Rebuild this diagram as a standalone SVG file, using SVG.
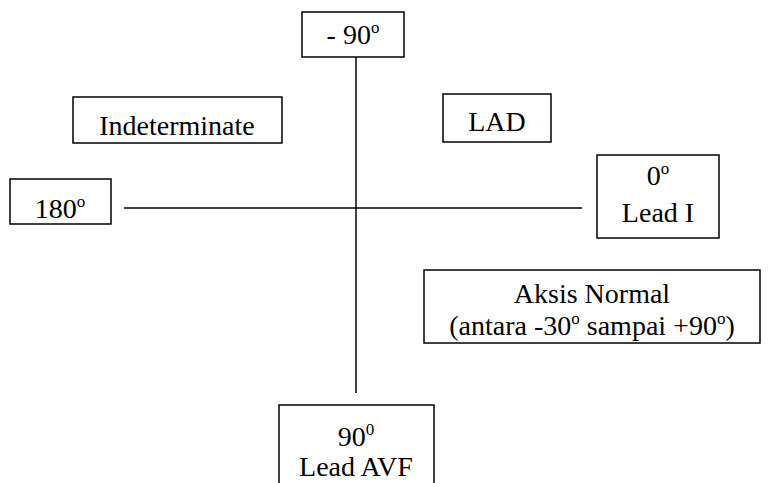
<svg xmlns="http://www.w3.org/2000/svg" width="769" height="483" viewBox="0 0 769 483">
<style>
.box{fill:#fff;stroke:#000;stroke-width:1.5}
.ln{stroke:#000;stroke-width:1.5;fill:none}
text{font-family:'Liberation Serif','Times New Roman',Times,serif;font-size:28px;fill:#000;text-anchor:middle}
.sup{font-size:17px}
</style>
<rect width="769" height="483" fill="#fff"/>
<g id="connectors">
<line class="ln" x1="356" y1="57" x2="356" y2="393"/>
<line class="ln" x1="124" y1="208" x2="582" y2="208"/>
</g>
<g id="n-90">
<rect class="box" x="302" y="12" width="102" height="45"/>
<text x="353" y="44">- 90<tspan class="sup" dy="-11">o</tspan></text>
</g>
<g id="indeterminate">
<rect class="box" x="73" y="97" width="209" height="46"/>
<text x="177" y="135">Indeterminate</text>
</g>
<g id="lad">
<rect class="box" x="443" y="94" width="108" height="48"/>
<text x="497" y="131">LAD</text>
</g>
<g id="n180">
<rect class="box" x="10" y="179" width="101" height="45"/>
<text x="60" y="218">180<tspan class="sup" dy="-11">o</tspan></text>
</g>
<g id="lead1">
<rect class="box" x="597" y="155" width="122" height="83"/>
<text x="658" y="185">0<tspan class="sup" dy="-11">o</tspan></text>
<text x="658" y="222">Lead I</text>
</g>
<g id="normal">
<rect class="box" x="424" y="270" width="336" height="73"/>
<text x="592" y="303">Aksis Normal</text>
<text x="592" y="335">(antara -30<tspan class="sup" dy="-11">o</tspan><tspan dy="11"> sampai +90</tspan><tspan class="sup" dy="-11">o</tspan><tspan dy="11">)</tspan></text>
</g>
<g id="avf">
<rect class="box" x="279" y="405" width="155" height="90"/>
<text x="356" y="446">90<tspan class="sup" dy="-11">0</tspan></text>
<text x="356" y="476">Lead AVF</text>
</g>
</svg>
